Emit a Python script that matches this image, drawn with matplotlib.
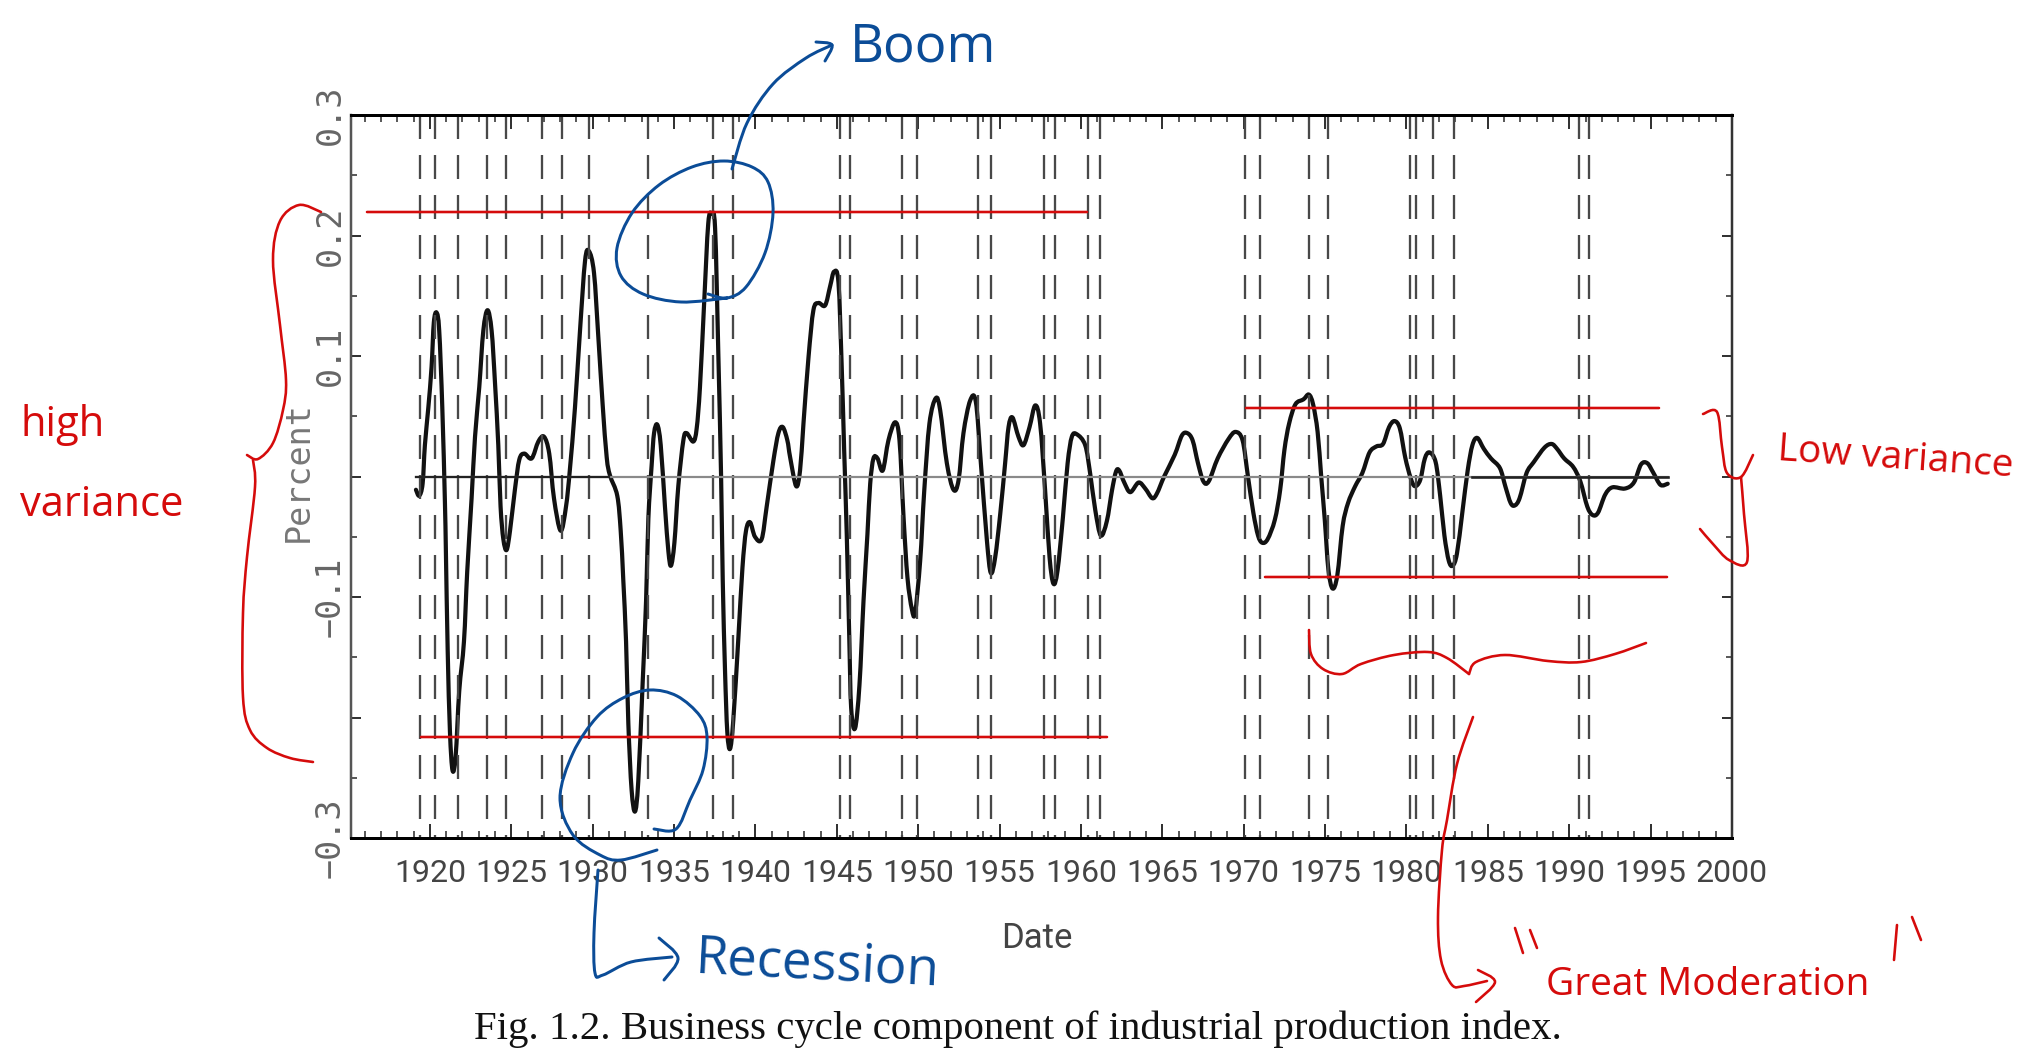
import matplotlib
matplotlib.use("Agg")
import matplotlib.pyplot as plt
from matplotlib.path import Path
from matplotlib.patches import PathPatch

# business cycle component
years = [1919.14, 1919.34, 1919.55, 1919.69, 1919.90, 1920.10, 1920.24, 1920.41, 1920.57, 1920.76,
         1920.92, 1920.98, 1921.09, 1921.23, 1921.39, 1921.58, 1921.80, 1922.09, 1922.29, 1922.56,
         1922.77, 1923.03, 1923.28, 1923.54, 1923.79, 1924.00, 1924.20, 1924.34, 1924.51, 1924.71,
         1924.92, 1925.22, 1925.49, 1925.80, 1926.25, 1926.66, 1927.01, 1927.33, 1927.62, 1928.03,
         1928.36, 1928.60, 1928.91, 1929.22, 1929.53, 1929.77, 1930.08, 1930.35, 1930.61, 1930.86,
         1931.06, 1931.51, 1931.72, 1931.88, 1932.05, 1932.19, 1932.39, 1932.60, 1932.80, 1933.07,
         1933.28, 1933.42, 1933.62, 1933.77, 1933.97, 1934.18, 1934.44, 1934.65, 1934.81, 1935.02,
         1935.26, 1935.57, 1935.77, 1936.18, 1936.39, 1936.59, 1936.84, 1937.10, 1937.31, 1937.52,
         1937.72, 1937.89, 1937.99, 1938.13, 1938.27, 1938.44, 1938.64, 1938.95, 1939.20, 1939.42,
         1939.67, 1939.97, 1940.38, 1940.69, 1941.10, 1941.41, 1941.68, 1941.96, 1942.13, 1942.50,
         1942.74, 1942.95, 1943.26, 1943.56, 1943.87, 1944.28, 1944.59, 1944.83, 1945.10, 1945.30,
         1945.45, 1945.61, 1945.76, 1945.88, 1946.12, 1946.39, 1946.64, 1946.88, 1947.05, 1947.25,
         1947.50, 1947.82, 1948.17, 1948.58, 1948.85, 1949.10, 1949.34, 1949.61, 1949.81, 1950.12,
         1950.37, 1950.69, 1951.08, 1951.35, 1951.76, 1952.17, 1952.48, 1952.78, 1953.19, 1953.54,
         1953.85, 1954.22, 1954.46, 1954.73, 1955.04, 1955.34, 1955.55, 1955.79, 1956.16, 1956.47,
         1956.84, 1957.19, 1957.49, 1957.80, 1958.07, 1958.31, 1958.56, 1958.89, 1959.18, 1959.44,
         1959.75, 1960.26, 1960.57, 1960.88, 1961.22, 1961.59, 1961.90, 1962.15, 1962.35, 1962.66,
         1963.03, 1963.54, 1963.95, 1964.38, 1964.67, 1965.11, 1965.76, 1966.20, 1966.53, 1966.86,
         1967.19, 1967.52, 1967.85, 1968.40, 1969.06, 1969.50, 1969.93, 1970.26, 1970.59, 1970.88,
         1971.14, 1971.47, 1971.91, 1972.24, 1972.50, 1972.79, 1973.18, 1973.67, 1974.00, 1974.26,
         1974.54, 1974.76, 1974.98, 1975.20, 1975.46, 1975.75, 1976.08, 1976.41, 1976.85, 1977.29,
         1977.73, 1978.16, 1978.56, 1978.93, 1979.26, 1979.59, 1979.92, 1980.25, 1980.51, 1980.84,
         1981.13, 1981.41, 1981.79, 1982.07, 1982.33, 1982.60, 1982.84, 1983.10, 1983.43, 1983.76,
         1984.05, 1984.35, 1984.75, 1985.19, 1985.74, 1986.07, 1986.40, 1986.66, 1986.95, 1987.38,
         1987.82, 1988.48, 1988.92, 1989.25, 1989.69, 1990.24, 1990.68, 1991.11, 1991.44, 1991.77,
         1992.21, 1992.65, 1993.42, 1993.97, 1994.41, 1994.80, 1995.17, 1995.61, 1996.05]
percent = [-0.011, -0.016, -0.006, 0.026, 0.057, 0.091, 0.128, 0.136, 0.121, 0.057,
           -0.021, -0.062, -0.144, -0.212, -0.244, -0.232, -0.178, -0.137, -0.079, -0.018,
           0.033, 0.074, 0.121, 0.138, 0.121, 0.077, 0.026, -0.025, -0.052, -0.061,
           -0.045, -0.011, 0.014, 0.019, 0.015, 0.029, 0.033, 0.019, -0.018, -0.045,
           -0.025, 0.006, 0.057, 0.121, 0.179, 0.187, 0.169, 0.115, 0.060, 0.016,
           0.001, -0.016, -0.045, -0.086, -0.137, -0.205, -0.260, -0.278, -0.253, -0.171,
           -0.103, -0.035, 0.009, 0.036, 0.043, 0.026, -0.025, -0.062, -0.074, -0.055,
           -0.008, 0.030, 0.036, 0.029, 0.040, 0.074, 0.142, 0.210, 0.218, 0.206,
           0.101, -0.001, -0.086, -0.161, -0.212, -0.226, -0.202, -0.134, -0.076, -0.045,
           -0.038, -0.050, -0.052, -0.025, 0.013, 0.036, 0.041, 0.030, 0.016, -0.008,
           0.005, 0.044, 0.099, 0.138, 0.144, 0.142, 0.158, 0.170, 0.161, 0.091,
           0.022, -0.048, -0.131, -0.192, -0.209, -0.173, -0.103, -0.048, -0.006, 0.015,
           0.015, 0.005, 0.030, 0.045, 0.030, -0.034, -0.084, -0.110, -0.113, -0.070,
           -0.012, 0.044, 0.065, 0.055, 0.011, -0.011, -0.003, 0.036, 0.063, 0.062,
           0.011, -0.053, -0.080, -0.067, -0.031, 0.011, 0.041, 0.049, 0.033, 0.026,
           0.041, 0.059, 0.044, -0.012, -0.067, -0.089, -0.078, -0.034, 0.011, 0.033,
           0.035, 0.026, 0.002, -0.028, -0.049, -0.037, -0.012, 0.004, 0.005, -0.005,
           -0.013, -0.005, -0.010, -0.018, -0.014, 0.000, 0.018, 0.034, 0.036, 0.030,
           0.011, -0.004, -0.004, 0.015, 0.031, 0.037, 0.030, 0.000, -0.030, -0.049,
           -0.055, -0.052, -0.036, -0.011, 0.022, 0.044, 0.060, 0.064, 0.068, 0.060,
           0.037, 0.000, -0.036, -0.077, -0.093, -0.082, -0.041, -0.022, -0.008, 0.003,
           0.020, 0.025, 0.027, 0.041, 0.046, 0.040, 0.016, -0.001, -0.008, -0.003,
           0.015, 0.020, 0.012, -0.016, -0.049, -0.070, -0.074, -0.064, -0.030, 0.005,
           0.026, 0.032, 0.023, 0.015, 0.007, -0.008, -0.022, -0.024, -0.018, 0.003,
           0.012, 0.024, 0.027, 0.023, 0.015, 0.008, -0.004, -0.025, -0.032, -0.030,
           -0.015, -0.009, -0.010, -0.005, 0.010, 0.011, 0.003, -0.007, -0.006]

# peak and trough dates, the dashed verticals
turning_points = [1919.4, 1920.3, 1921.7, 1923.5, 1924.7, 1926.9, 1928.1, 1929.8, 1933.4,
                  1937.4, 1938.6, 1945.2, 1945.8, 1949.0, 1949.9, 1953.7, 1954.5, 1957.7,
                  1958.4, 1960.45, 1961.2, 1970.1, 1971.0, 1974.0, 1975.2, 1980.2, 1980.6,
                  1981.6, 1982.9, 1990.6, 1991.2]

x_ticks = list(range(1920, 2001, 5))
y_ticks = [-0.3, -0.2, -0.1, 0.0, 0.1, 0.2, 0.3]
y_labels = ["\u22120.3", "", "\u22120.1", "", "0.1", "0.2", "0.3"]

RED = "#d50b0b"
BLUE = "#0b4c97"
W, H = 2038, 1049
PX = 72 / 100  # points per pixel at dpi 100

plt.rcParams["lines.scale_dashes"] = False


def smooth_path(pts):
    # curve through pts, used for the series and for the pen marks
    verts = [pts[0]]
    codes = [Path.MOVETO]
    for i in range(len(pts) - 1):
        p0 = pts[max(i - 1, 0)]
        p1 = pts[i]
        p2 = pts[i + 1]
        p3 = pts[min(i + 2, len(pts) - 1)]
        c1 = (p1[0] + (p2[0] - p0[0]) / 6, p1[1] + (p2[1] - p0[1]) / 6)
        c2 = (p2[0] - (p3[0] - p1[0]) / 6, p2[1] - (p3[1] - p1[1]) / 6)
        verts += [c1, c2, p2]
        codes += [Path.CURVE4] * 3
    return Path(verts, codes)


fig = plt.figure(figsize=(W / 100, H / 100), dpi=100)
ax = fig.add_axes([351 / W, 1 - 838 / H, 1381 / W, 723 / H])

for t in turning_points:
    ax.plot([t, t], [0.3, -0.3], color="#484848", lw=2.3 * PX,
            linestyle=(0, (24 * PX, 16 * PX)), solid_capstyle="butt", dash_capstyle="butt")

ax.plot([years[0], years[-1]], [0, 0], color="#8a8a8a", lw=2.2 * PX)
ax.plot([years[0], 1931.0], [0, 0], color="#222222", lw=2.2 * PX)
ax.plot([1984.0, years[-1]], [0, 0], color="#222222", lw=2.6 * PX)
ax.add_patch(PathPatch(smooth_path(list(zip(years, percent))), fc="none", ec="#111111", lw=4.2 * PX,
                       joinstyle="round", capstyle="round"))

ax.set_xlim(1915.15, 2000.0)
ax.set_ylim(-0.3, 0.3)
ax.set_xticks(x_ticks)
ax.set_xticks(range(1916, 2000), minor=True)
ax.set_yticks(y_ticks)
ax.set_yticklabels(y_labels, rotation=90, va="center", family="DejaVu Sans Mono", fontsize=24, color="#666666")
ax.set_yticks([-0.25, -0.15, -0.05, 0.05, 0.15, 0.25], minor=True)
ax.set_xticklabels(x_ticks, family="Roboto", fontsize=23, color="#444444")
ax.tick_params(axis="both", which="both", direction="in", top=True, right=True, color="#333333")
ax.tick_params(axis="x", which="major", length=14 * PX, width=2 * PX, pad=15)
ax.tick_params(axis="x", which="minor", length=7 * PX, width=1.6 * PX)
ax.tick_params(axis="y", which="major", length=10 * PX, width=2 * PX, pad=3)
ax.tick_params(axis="y", which="minor", length=6 * PX, width=1.6 * PX)

ax.spines["top"].set_linewidth(3 * PX)
ax.spines["bottom"].set_linewidth(3 * PX)
ax.spines["left"].set_linewidth(2.5 * PX)
ax.spines["left"].set_color("#555555")
ax.spines["right"].set_linewidth(2.5 * PX)
ax.spines["right"].set_color("#333333")

# pen marks and caption go on a full figure overlay in pixel coordinates
ink_ax = fig.add_axes([0, 0, 1, 1], facecolor="none")
ink_ax.set_xlim(0, W)
ink_ax.set_ylim(H, 0)
ink_ax.axis("off")


def ink(pts, color, width=2.6):
    ink_ax.add_patch(PathPatch(smooth_path(pts), fc="none", ec=color, lw=width * PX, capstyle="round"))


# red level lines
ink([(367, 212), (1087, 212)], RED)
ink([(421, 737), (1107, 737)], RED)
ink([(1246, 408), (1659, 408)], RED)
ink([(1265, 577), (1667, 577)], RED)

# boom circle and arrow
ink([(708, 294), (727, 298), (746, 287), (765, 253), (773, 213), (768, 182), (752, 167), (724, 161),
     (692, 167), (659, 185), (632, 213), (617, 248), (621, 276), (643, 294), (681, 302), (727, 298)], BLUE, 3)
ink([(732, 169), (747, 123), (773, 84), (806, 58), (832, 45)], BLUE, 3)
ink([(816, 42), (832, 45), (825, 61)], BLUE, 3)

# recession circle and arrow
ink([(654, 829), (676, 829), (690, 800), (703, 770), (707, 737), (700, 716), (677, 696), (650, 690),
     (623, 698), (597, 717), (573, 753), (560, 798), (573, 835), (600, 855), (621, 860), (657, 850)], BLUE, 3)
ink([(598, 870), (594, 933), (595, 973), (603, 975), (631, 962), (672, 957)], BLUE, 3)
ink([(659, 938), (678, 958), (664, 980)], BLUE, 3)

# high variance brace
ink([(321, 212), (299, 205), (280, 221), (273, 260), (280, 325), (286, 380), (283, 410), (273, 443),
     (258, 459), (247, 455)], RED)
ink([(253, 460), (255, 487), (247, 557), (243, 613), (243, 697), (250, 730), (267, 748), (290, 758),
     (313, 762)], RED)

# low variance brace
ink([(1703, 414), (1717, 412), (1722, 447), (1727, 473), (1741, 477), (1753, 455)], RED)
ink([(1741, 477), (1744, 514), (1747, 562), (1729, 560), (1713, 544), (1700, 529)], RED)

# great moderation brace and arrow
ink([(1309, 630), (1311, 654), (1323, 669), (1342, 674), (1361, 664), (1394, 655), (1428, 652),
     (1447, 658), (1469, 674)], RED)
ink([(1469, 674), (1476, 662), (1505, 655), (1548, 661), (1581, 662), (1615, 654), (1646, 643)], RED)
ink([(1473, 717), (1457, 764), (1447, 820), (1442, 850), (1438, 917), (1441, 960), (1452, 985),
     (1464, 986), (1487, 981)], RED)
ink([(1478, 970), (1495, 982), (1476, 1002)], RED)
ink([(1515, 928), (1523, 953)], RED)
ink([(1530, 930), (1537, 948)], RED)
ink([(1897, 925), (1894, 960)], RED)
ink([(1912, 917), (1921, 940)], RED)

hand = ["Open Sans", "DejaVu Sans"]
ink_ax.text(923, 48, "Boom", color=BLUE, fontsize=38, family=hand, ha="center", va="center")
ink_ax.text(818, 965, "Recession", color=BLUE, fontsize=38, family=hand, ha="center", va="center", rotation=-3)
ink_ax.text(63, 425, "high", color=RED, fontsize=30, family=hand, ha="center", va="center")
ink_ax.text(102, 505, "variance", color=RED, fontsize=30, family=hand, ha="center", va="center")
ink_ax.text(1895, 458, "Low variance", color=RED, fontsize=28, family=hand, ha="center", va="center", rotation=-4)
ink_ax.text(1708, 985, "Great Moderation", color=RED, fontsize=28, family=hand, ha="center", va="center")

# labels from the printed figure
ink_ax.text(298, 472, "Percent", color="#777777", fontsize=24, family="DejaVu Sans Mono", rotation=90,
            ha="center", va="center")
ink_ax.text(1037, 938, "Date", color="#444444", fontsize=25, family="Roboto", ha="center", va="center")
ink_ax.text(1018, 1029, "Fig. 1.2. Business cycle component of industrial production index.", color="#111111",
            fontsize=29.4, family=["Liberation Serif", "DejaVu Serif"], ha="center", va="center")

fig.savefig("out.png", dpi=100)
